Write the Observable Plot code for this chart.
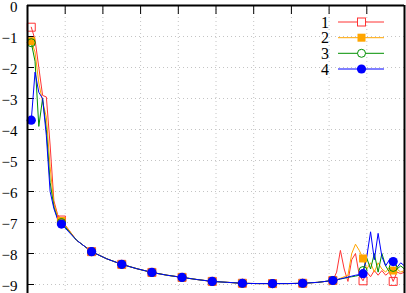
<!DOCTYPE html>
<html><head><meta charset="utf-8">
<script src="https://cdn.jsdelivr.net/npm/d3@7"></script>
<script src="https://cdn.jsdelivr.net/npm/@observablehq/plot@0.6"></script>
<style>
body{margin:0;background:#fff;}
#wrap{position:relative;width:406px;height:293px;overflow:hidden;}
#legend{position:absolute;left:0;top:0;}
#wrap svg text{font-family:"Liberation Serif","Times New Roman",Times,serif !important;}
</style></head><body><div id="wrap"></div>
<script>
// ---- data ----
const seriesNames = ["1", "2", "3", "4"];
const seriesColors = ["#ff3333", "#ffa500", "#009000", "#0000ff"];
const xTicks = [0, 1, 2, 3, 4, 5, 6, 7, 8, 9, 10];
const yTicks = [0, -1, -2, -3, -4, -5, -6, -7, -8, -9];
const markerX = [0.1, 0.9, 1.7, 2.5, 3.3, 4.1, 4.9, 5.7, 6.5, 7.3, 8.1, 8.9, 9.7];

// head (steep start), per series
const headX = [0.1, 0.2, 0.3, 0.4, 0.5, 0.6, 0.7, 0.8, 0.9];
const head1 = [-0.7, -1.1, -2.0, -2.9, -2.95, -4.5, -6.3, -6.75, -6.92];
const head2 = [-1.15, -1.5, -2.5, -3.1, -3.6, -5.2, -6.4, -6.8, -6.95];
const head3 = [-1.2, -1.8, -3.9, -3.0, -4.0, -5.7, -6.5, -6.88, -7.0];
const head4 = [-3.7, -2.15, -2.8, -3.0, -4.2, -6.0, -6.55, -6.9, -7.05];

// smooth body shared by all series
const bodyX = [1.3, 1.7, 2.1, 2.5, 2.9, 3.3, 3.7, 4.1, 4.5, 4.9, 5.3, 5.7, 6.1, 6.5, 6.9, 7.3, 7.7];
const bodyY = [-7.57, -7.94, -8.17, -8.35, -8.49, -8.61, -8.7, -8.77, -8.84, -8.9, -8.93, -8.96, -8.97, -8.97, -8.97, -8.96, -8.93];

// noisy tail, per series
const tailX = [8.1, 8.2, 8.3, 8.4, 8.5, 8.6, 8.7, 8.8, 8.9, 9.0, 9.1, 9.2, 9.3, 9.4, 9.5, 9.6, 9.7, 9.8, 9.9, 10.0];
const tail1 = [-8.87, -8.6, -7.9, -8.5, -8.9, -8.2, -8.0, -8.7, -8.88, -8.6, -8.75, -8.55, -8.7, -8.55, -8.7, -8.6, -8.9, -8.6, -8.65, -8.6];
const tail2 = [-8.87, -8.85, -8.8, -8.75, -8.7, -8.0, -7.7, -7.9, -8.16, -8.5, -8.3, -8.6, -8.3, -8.5, -8.6, -8.45, -8.55, -8.5, -8.6, -8.55];
const tail3 = [-8.87, -8.85, -8.82, -8.8, -8.77, -8.75, -8.73, -8.7, -8.55, -8.15, -8.5, -8.0, -8.6, -8.0, -8.4, -8.6, -8.45, -8.5, -8.4, -8.5];
const tail4 = [-8.87, -8.85, -8.82, -8.79, -8.76, -8.73, -8.7, -8.68, -8.65, -8.1, -7.3, -8.2, -7.35, -8.1, -8.4, -8.2, -8.26, -8.45, -8.3, -8.4];

// ---- build table ----
const heads = [head1, head2, head3, head4];
const tails = [tail1, tail2, tail3, tail4];
const rows = [];
seriesNames.forEach((s, i) => {
  headX.forEach((x, j) => rows.push({s, x, y: heads[i][j]}));
  bodyX.forEach((x, j) => rows.push({s, x, y: bodyY[j]}));
  tailX.forEach((x, j) => rows.push({s, x, y: tails[i][j]}));
});
const mk = new Set(markerX.map(v => Math.round(v * 10)));
const markerRows = rows.filter(r => mk.has(Math.round(r.x * 10)));
const bySeries = s => rows.filter(r => r.s === s);
const mBySeries = s => markerRows.filter(r => r.s === s);

const font = '"Liberation Serif","Times New Roman",Times,serif';
const grid = {stroke: "#c4c4c4", strokeOpacity: 1, strokeDasharray: "1,3", strokeWidth: 1};

const plot = Plot.plot({
  width: 406, height: 293,
  marginLeft: 27, marginRight: 2, marginTop: 5, marginBottom: 0,
  x: {domain: [0, 10], label: null},
  y: {domain: [-9.29, 0], label: null},
  style: {fontFamily: font, fontSize: "15px", background: "#fff", color: "#000"},
  marks: [
    Plot.gridX(xTicks.slice(1, -1), grid),
    Plot.gridY(yTicks.slice(1), grid),
    Plot.axisY(yTicks, {label: null, tickSize: 0, tickPadding: 10, dy: 1.5, fontSize: 15, tickFormat: d => d === 0 ? "0" : "\u2212" + Math.abs(d)}),
    Plot.axisY(yTicks.slice(1), {label: null, tickSize: 7, dx: 7, tickFormat: () => "", strokeWidth: 1}),
    Plot.axisX(xTicks.slice(1, -1), {label: null, anchor: "top", tickSize: 8, dy: 8, tickFormat: () => "", strokeWidth: 1}),
    ...seriesNames.map((s, i) => Plot.line(bySeries(s), {x: "x", y: "y", stroke: seriesColors[i], strokeWidth: 1})),
    Plot.dot(mBySeries("1"), {x: "x", y: "y", symbol: "square", r: 4.5, stroke: seriesColors[0], fill: "none", strokeWidth: 1}),
    Plot.dot(mBySeries("2"), {x: "x", y: "y", symbol: "square", r: 4.5, fill: seriesColors[1], stroke: "none"}),
    Plot.dot(mBySeries("3"), {x: "x", y: "y", symbol: "circle", r: 4, stroke: seriesColors[2], fill: "none", strokeWidth: 1}),
    Plot.dot(mBySeries("4"), {x: "x", y: "y", symbol: "circle", r: 4.6, fill: seriesColors[3], stroke: "none"}),
    Plot.ruleY([0], {stroke: "#000", strokeWidth: 2}),
    Plot.ruleX([0, 10], {stroke: "#000", strokeWidth: 2})
  ]
});
const wrap = document.getElementById("wrap");
wrap.appendChild(plot);

// ---- in-plot legend (gnuplot style key) ----
const lg = d3.select(wrap).append("svg").attr("id", "legend").attr("width", 406).attr("height", 293);
const keyY = [22, 37.7, 53.3, 69];
seriesNames.forEach((s, i) => {
  const g = lg.append("g").attr("transform", `translate(0,${keyY[i]})`);
  g.append("text").attr("x", 329).attr("y", 0).attr("dy", "0.35em").attr("text-anchor", "end")
    .attr("font-family", font).attr("font-size", 16).attr("fill", "#000").text(s);
  g.append("line").attr("x1", 338).attr("x2", 384).attr("y1", 0).attr("y2", 0)
    .attr("stroke", seriesColors[i]).attr("stroke-width", 1);
  if (i === 0) g.append("rect").attr("x", 357.5).attr("y", -4).attr("width", 8).attr("height", 8)
    .attr("fill", "#fff").attr("stroke", seriesColors[0]);
  if (i === 1) g.append("rect").attr("x", 357.5).attr("y", -4).attr("width", 8).attr("height", 8)
    .attr("fill", seriesColors[1]);
  if (i === 2) g.append("circle").attr("cx", 361.5).attr("cy", 0).attr("r", 4)
    .attr("fill", "#fff").attr("stroke", seriesColors[2]);
  if (i === 3) g.append("circle").attr("cx", 361.5).attr("cy", 0).attr("r", 4.6)
    .attr("fill", seriesColors[3]);
});
</script>
</body></html>
